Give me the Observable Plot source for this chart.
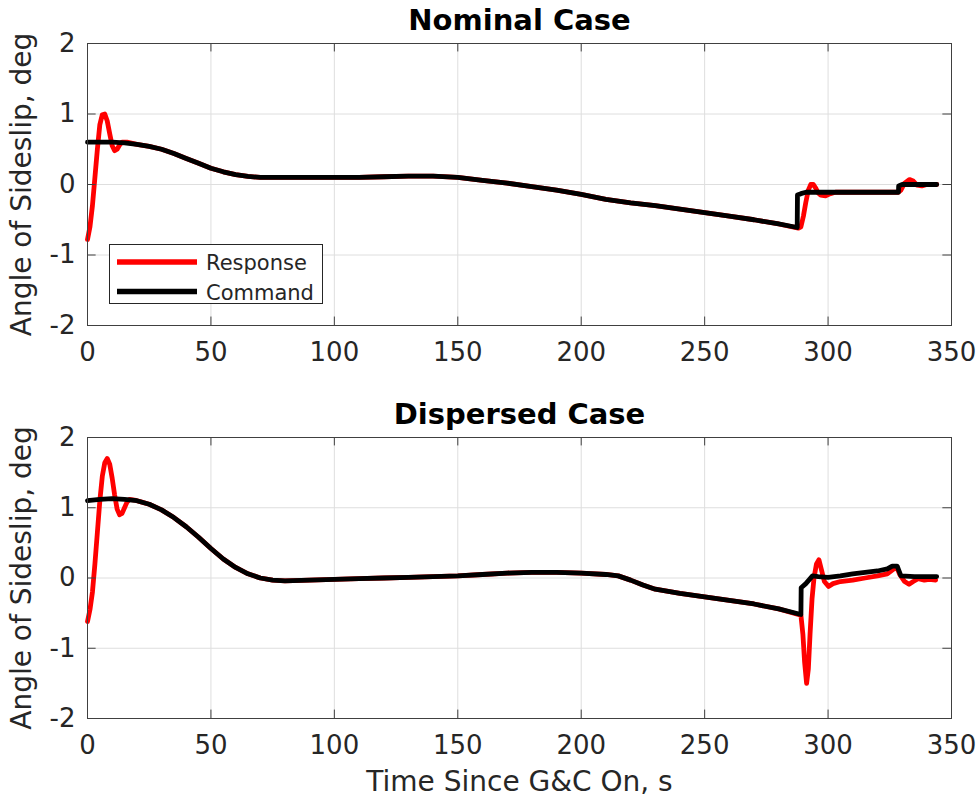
<!DOCTYPE html>
<html><head><meta charset="utf-8">
<script src="https://cdn.jsdelivr.net/npm/d3@7"></script>
<script src="https://cdn.jsdelivr.net/npm/@observablehq/plot@0.6"></script>
<style>
body{margin:0;background:#fff;}
#wrap{position:relative;width:980px;height:797px;overflow:hidden;}
#wrap svg{display:block;}
#legend{position:absolute;left:109px;top:244px;width:212px;height:58px;border:1px solid #262626;background:#fff;font-family:"DejaVu Sans";font-size:21px;color:#262626;}
</style></head><body><div id="wrap"></div>
<script>
const xTicks = [0, 50, 100, 150, 200, 250, 300, 350];
const yTicks = [-2, -1, 0, 1, 2];
const titles = ["Nominal Case", "Dispersed Case"];
const yLabel = "Angle of Sideslip, deg";
const xLabel = "Time Since G&C On, s";
const seriesNames = ["Response", "Command"];

// Nominal case
const nomCmdT = [0,5,10,15,20,25,30,35,40,45,50,55,60,65,70,80,90,100,110,120,130,140,150,160,170,180,190,200,210,220,230,240,250,260,270,280,287.5,287.6,289,291,293,300,310,320,328.5,328.6,330,335,340,344];
const nomCmdV = [0.6,0.6,0.6,0.59,0.57,0.54,0.5,0.44,0.37,0.3,0.23,0.18,0.14,0.115,0.1,0.1,0.1,0.1,0.1,0.11,0.12,0.12,0.1,0.06,0.02,-0.03,-0.08,-0.14,-0.21,-0.26,-0.3,-0.35,-0.4,-0.45,-0.5,-0.56,-0.61,-0.15,-0.13,-0.11,-0.11,-0.11,-0.11,-0.11,-0.11,-0.02,0,0,0,0];
const nomRespT = [0,1,2,3,4,5,6,7,8,9,10,11,12,13,14,16,20,25,30,35,40,45,50,55,60,65,70,80,90,100,110,120,130,140,150,160,170,180,190,200,210,220,230,240,250,260,270,280,288,289,290,291,292,293,294,295,296,297,299,301,303,310,320,328.5,329.5,331,333,334.5,336,338,340,344];
const nomRespV = [-0.78,-0.6,-0.3,0.1,0.5,0.85,0.99,1.0,0.9,0.72,0.55,0.48,0.5,0.56,0.6,0.6,0.57,0.54,0.5,0.44,0.37,0.3,0.23,0.18,0.14,0.115,0.1,0.1,0.1,0.1,0.1,0.11,0.12,0.12,0.1,0.06,0.02,-0.03,-0.08,-0.14,-0.21,-0.26,-0.3,-0.35,-0.4,-0.45,-0.5,-0.56,-0.62,-0.6,-0.45,-0.25,-0.08,0.0,0.0,-0.05,-0.12,-0.15,-0.16,-0.13,-0.11,-0.11,-0.11,-0.11,-0.08,0.02,0.07,0.05,-0.01,-0.02,0,0];

// Dispersed case
const disCmdT = [0,5,10,15,20,25,30,35,40,45,50,55,60,65,70,75,80,90,100,110,120,130,140,150,160,170,180,190,200,210,215,220,225,230,240,250,260,270,280,289,289.1,291,293.7,296,300,305,310,315,320,324,326,328,329.5,335,344];
const disCmdV = [1.1,1.12,1.13,1.12,1.1,1.05,0.97,0.86,0.73,0.58,0.42,0.27,0.15,0.06,0.0,-0.03,-0.04,-0.03,-0.02,-0.01,0.0,0.01,0.02,0.03,0.05,0.07,0.08,0.08,0.07,0.05,0.03,-0.03,-0.1,-0.16,-0.22,-0.27,-0.32,-0.37,-0.44,-0.52,-0.14,-0.08,0.03,0.02,0.01,0.03,0.06,0.08,0.1,0.13,0.17,0.17,0.03,0.02,0.02];
const disRespT = [0,1,2,3,4,5,6,7,8,9,10,11,12,13,14,15,16,17,19,22,25,30,35,40,45,50,55,60,65,70,75,80,90,100,110,120,130,140,150,160,170,180,190,200,210,215,220,225,230,240,250,260,270,280,289,289.8,290.5,291.3,292,292.7,293.5,294.3,295.3,296.3,297.3,298.5,300.2,302,305,310,315,320,324,326.7,328,329,331,332.8,334.5,336.5,339,341,343.6];
const disRespV = [-0.62,-0.45,-0.2,0.2,0.65,1.1,1.45,1.64,1.7,1.62,1.42,1.18,0.98,0.9,0.92,1.0,1.08,1.12,1.11,1.08,1.05,0.97,0.86,0.73,0.58,0.42,0.27,0.15,0.06,0.0,-0.03,-0.04,-0.03,-0.02,-0.01,0.0,0.01,0.02,0.03,0.05,0.07,0.08,0.08,0.07,0.05,0.03,-0.03,-0.1,-0.16,-0.22,-0.27,-0.32,-0.37,-0.44,-0.53,-0.8,-1.2,-1.5,-1.3,-0.8,-0.3,0.0,0.2,0.26,0.12,-0.05,-0.12,-0.08,-0.05,-0.03,0.0,0.03,0.06,0.13,0.14,0.05,-0.05,-0.09,-0.05,-0.01,-0.03,-0.02,-0.03];

const toRows = (T, V) => T.map((t, i) => ({t, v: V[i]}));
const ink = "#262626";

function panel({title, cmd, resp, height, marginTop, marginBottom, withXLabel}) {
  const marks = [
    Plot.gridX(xTicks, {stroke: "#dedede", strokeOpacity: 1}),
    Plot.gridY(yTicks, {stroke: "#dedede", strokeOpacity: 1}),
    Plot.line(resp, {x: "t", y: "v", stroke: "#ff0000", strokeWidth: 4.8, strokeLinejoin: "round", strokeLinecap: "round"}),
    Plot.line(cmd, {x: "t", y: "v", stroke: "#000000", strokeWidth: 4.8, strokeLinejoin: "round", strokeLinecap: "round"}),
    Plot.frame({stroke: "#404040", strokeWidth: 1}),
    Plot.ruleX(xTicks, {x: d => d, y1: -2, y2: -1.88, stroke: "#404040"}),
    Plot.ruleX(xTicks, {x: d => d, y1: 2, y2: 1.88, stroke: "#404040"}),
    Plot.ruleY(yTicks, {y: d => d, x1: 0, x2: 3.5, stroke: "#404040"}),
    Plot.ruleY(yTicks, {y: d => d, x1: 350, x2: 346.5, stroke: "#404040"}),
    Plot.axisX({ticks: xTicks, tickSize: 0, tickPadding: 17, fontSize: 26, tickFormat: d => String(d), fill: ink, label: null}),
    Plot.axisY({ticks: yTicks, tickSize: 0, tickPadding: 12, fontSize: 26, tickFormat: d => String(d), fill: ink, label: null}),
    Plot.text([title], {text: d => d, frameAnchor: "top", dy: -23, fontSize: 29, fontWeight: "bold", fill: "#000", lineAnchor: "middle"}),
    Plot.text([yLabel], {text: d => d, frameAnchor: "left", textAnchor: "middle", dx: -65, rotate: -90, fontSize: 28, fill: ink, lineAnchor: "middle"})
  ];
  if (withXLabel) marks.push(Plot.text([xLabel], {text: d => d, frameAnchor: "bottom", dy: 64, fontSize: 28, fill: ink, lineAnchor: "middle"}));
  return Plot.plot({
    width: 980, height,
    marginLeft: 87, marginRight: 29, marginTop, marginBottom,
    x: {domain: [0, 350]},
    y: {domain: [-2, 2]},
    style: {fontFamily: "DejaVu Sans", background: "#fff", color: ink, overflow: "visible"},
    marks
  });
}

const wrap = document.getElementById("wrap");
wrap.append(panel({title: titles[0], cmd: toRows(nomCmdT, nomCmdV), resp: toRows(nomRespT, nomRespV), height: 388, marginTop: 43, marginBottom: 63, withXLabel: false}));
wrap.append(panel({title: titles[1], cmd: toRows(disCmdT, disCmdV), resp: toRows(disRespT, disRespV), height: 409, marginTop: 49, marginBottom: 79, withXLabel: true}));

// legend
const leg = document.createElement("div");
leg.id = "legend";
const colors = ["#ff0000", "#000000"];
const lsvg = d3.create("svg").attr("width", 212).attr("height", 58).style("position", "absolute").style("left", "0").style("top", "0");
seriesNames.forEach((name, i) => {
  const cy = 17 + i * 29.5;
  lsvg.append("line").attr("x1", 7).attr("x2", 87).attr("y1", cy).attr("y2", cy).attr("stroke", colors[i]).attr("stroke-width", 5.5);
  lsvg.append("text").attr("x", 96).attr("y", cy + 8).attr("font-family", "DejaVu Sans").attr("font-size", 21).attr("fill", ink).text(name);
});
leg.append(lsvg.node());
wrap.append(leg);
</script></body></html>
